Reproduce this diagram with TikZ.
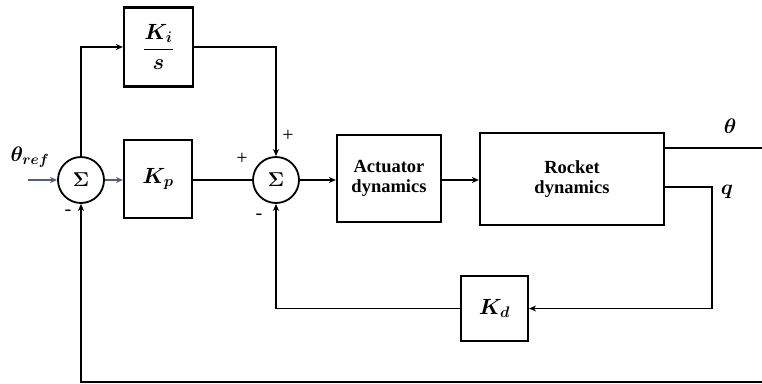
\documentclass[tikz,border=0pt]{standalone}
\usepackage{fix-cm}
\usepackage{amsmath}
\usepackage{bm}
\usepackage{fontspec}
\setmainfont{Liberation Serif}
\usetikzlibrary{arrows.meta}
\definecolor{slate}{RGB}{80,96,128}
\begin{document}
\begin{tikzpicture}[x=1pt,y=-1pt,
  blk/.style={draw,line width=2.2pt,inner sep=0pt,font=\fontsize{22}{24}\selectfont},
  txtblk/.style={blk,font=\fontsize{18.5}{22}\selectfont\bfseries,align=center},
  sumnode/.style={draw,circle,line width=1.8pt,minimum size=46pt,inner sep=0pt,font=\fontsize{20}{22}\selectfont},
  ln/.style={line width=1.8pt},
  arr/.style={ln,-{Stealth[length=7pt,width=6pt]}},
  barr/.style={arr,slate},
  sgn/.style={font=\fontsize{20}{22}\selectfont,inner sep=0pt},
  lbl/.style={font=\fontsize{21}{24}\selectfont,inner sep=0pt}]
\useasboundingbox (0,0) rectangle (762,383);
% blocks
\node[sumnode] (s1) at (81,180) {$\bm{\Sigma}$};
\node[sumnode] (s2) at (276,180) {$\bm{\Sigma}$};
\node[blk,minimum width=68pt,minimum height=78pt] (kp) at (158,179) {$\bm{K_p}$};
\node[blk,minimum width=69pt,minimum height=79pt] (ki) at (158.5,47) {$\displaystyle\frac{\bm{K_i}}{\bm{s}}$};
\node[txtblk,minimum width=104pt,minimum height=87pt] (act) at (389,178.5) {Actuator\\[-2pt]dynamics};
\node[txtblk,minimum width=184pt,minimum height=92pt] (rock) at (572,179) {Rocket\\[-2pt]dynamics};
\node[blk,minimum width=67pt,minimum height=65pt] (kd) at (494.5,308.5) {$\bm{K_d}$};
% coordinates
\coordinate (tr) at (28,180);
\coordinate (thOut) at (762,148);
\coordinate (qc) at (712,187);
\coordinate (bot) at (762,382);
% connectors
\draw[barr] (tr) -- (s1.west);
\draw[barr] (s1.east) -- (kp.west |- s1.east);
\draw[arr] (s1.north) |- (ki.west);
\draw[arr] (ki.east) -| (s2.north);
\draw[ln] (kp.east |- s2.west) -- (s2.west);
\draw[arr] (s2.east) -- (act.west |- s2.east);
\draw[arr] (act.east |- s2.east) -- (rock.west |- s2.east);
\draw[ln] (rock.east |- thOut) -- (thOut);
\draw[arr] (rock.east |- qc) -- (qc) |- (kd.east);
\draw[arr] (kd.west) -| (s2.south);
\draw[arr] (bot) -| (s1.south);
% labels
\node[lbl] (thref) at (30,157) {$\bm{\theta_{ref}}$};
\node[sgn] (p1) at (288,136) {+};
\node[sgn] (p2) at (242,159) {+};
\node[sgn] (m1) at (259,217) {-};
\node[sgn] (m2) at (68,213) {-};
\node[lbl] (th) at (730,126) {$\bm{\theta}$};
\node[lbl] (q) at (727,192) {$\bm{q}$};
\end{tikzpicture}
\end{document}
